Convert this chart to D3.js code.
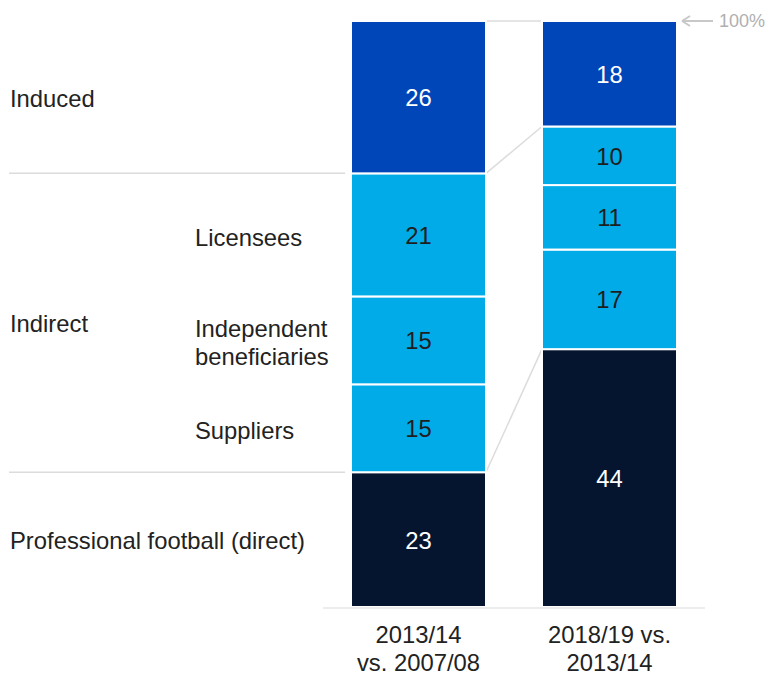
<!DOCTYPE html>
<html>
<head>
<meta charset="utf-8">
<script src="https://cdn.jsdelivr.net/npm/d3@7"></script>
<style>
  html, body { margin: 0; padding: 0; background: #fff; }
  svg text { font-family: "Liberation Sans", Arial, sans-serif; }
</style>
</head>
<body>
<svg id="chart" width="771" height="675"></svg>
<script>
// Periods compared (one stacked bar each)
const periods = ["2013/14 vs. 2007/08", "2018/19 vs. 2013/14"];
const periodLabels = [["2013/14", "vs. 2007/08"], ["2018/19 vs.", "2013/14"]];

// Stack components, bottom to top
const components = ["direct", "suppliers", "independent", "licensees", "induced"];
const direct      = [23, 44];
const suppliers   = [15, 17];
const independent = [15, 11];
const licensees   = [21, 10];
const induced     = [26, 18];

const componentColors = {
  direct: "#051530",
  suppliers: "#00ABE8",
  independent: "#00ABE8",
  licensees: "#00ABE8",
  induced: "#0046B8"
};
const labelColors = {
  direct: "#ffffff",
  suppliers: "#1e1e1e",
  independent: "#1e1e1e",
  licensees: "#1e1e1e",
  induced: "#ffffff"
};

// Group labels on the left and sub-component labels
const groupLabels = [
  { text: ["Induced"], from: "induced", to: "induced" },
  { text: ["Indirect"], from: "suppliers", to: "licensees" },
  { text: ["Professional football (direct)"], from: "direct", to: "direct" }
];
const subLabels = [
  { text: ["Licensees"], key: "licensees" },
  { text: ["Independent", "beneficiaries"], key: "independent" },
  { text: ["Suppliers"], key: "suppliers" }
];

const table = periods.map((p, i) => ({
  period: p,
  direct: direct[i],
  suppliers: suppliers[i],
  independent: independent[i],
  licensees: licensees[i],
  induced: induced[i]
}));

const svg = d3.select("#chart");
const fontSize = 23.8;
const textColor = "#222222";

const x = d3.scaleBand().domain(periods).range([351, 677]).paddingInner(56 / 191).paddingOuter(0);
const y = d3.scaleLinear().domain([0, 100]).range([607, 21]);

const series = d3.stack().keys(components)(table);

// Separator lines on the left following the first bar's group boundaries
const s0 = Object.fromEntries(series.map(s => [s.key, s[0]]));
const gridColor = "#dcdcdc";
[s0.direct[1], s0.licensees[1]].forEach(v => {
  svg.append("line")
    .attr("x1", 9).attr("x2", x(periods[0]) - 6)
    .attr("y1", y(v)).attr("y2", y(v))
    .attr("stroke", gridColor).attr("stroke-width", 1.5);
});

// Connector lines between the two bars
const s1 = Object.fromEntries(series.map(s => [s.key, s[1]]));
const x0r = x(periods[0]) + x.bandwidth();
const x1l = x(periods[1]);
[[s0.induced[1], s1.induced[1]], [s0.licensees[1], s1.licensees[1]], [s0.direct[1], s1.direct[1]]]
  .forEach(([a, b]) => {
    svg.append("line")
      .attr("x1", x0r).attr("x2", x1l)
      .attr("y1", y(a)).attr("y2", y(b))
      .attr("stroke", gridColor).attr("stroke-width", 1.5);
  });

// Stacked bars
const layers = svg.append("g").selectAll("g").data(series).join("g")
  .attr("fill", d => componentColors[d.key]);
layers.selectAll("rect").data(d => d.map(v => Object.assign(v, { key: d.key }))).join("rect")
  .attr("x", d => x(d.data.period))
  .attr("width", x.bandwidth())
  .attr("y", d => y(d[1]))
  .attr("height", d => y(d[0]) - y(d[1]))
  .attr("stroke", "#fff")
  .attr("stroke-width", 2);

// Value labels inside segments
layers.selectAll("text").data(d => d).join("text")
  .attr("x", d => x(d.data.period) + x.bandwidth() / 2)
  .attr("y", d => (y(d[0]) + y(d[1])) / 2)
  .attr("dy", "0.38em")
  .attr("text-anchor", "middle")
  .attr("font-size", fontSize)
  .attr("fill", d => labelColors[d.key])
  .text(d => d[1] - d[0]);

// Baseline
svg.append("line")
  .attr("x1", 323).attr("x2", 705)
  .attr("y1", y(0) + 1).attr("y2", y(0) + 1)
  .attr("stroke", "#e6e6e6").attr("stroke-width", 1.5);

// Category labels under the bars
periods.forEach((p, i) => {
  const t = svg.append("text")
    .attr("x", x(p) + x.bandwidth() / 2)
    .attr("y", 643)
    .attr("text-anchor", "middle")
    .attr("font-size", fontSize)
    .attr("fill", textColor);
  periodLabels[i].forEach((line, j) => {
    t.append("tspan").attr("x", x(p) + x.bandwidth() / 2).attr("dy", j === 0 ? 0 : 28).text(line);
  });
});

// Multi-line text centred vertically on a y position
function centredText(lines, xPos, yMid) {
  const lh = 28;
  const t = svg.append("text")
    .attr("x", xPos)
    .attr("font-size", fontSize)
    .attr("fill", textColor);
  lines.forEach((line, j) => {
    t.append("tspan")
      .attr("x", xPos)
      .attr("y", yMid - (lines.length - 1) * lh / 2 + j * lh)
      .attr("dy", "0.4em")
      .text(line);
  });
}

groupLabels.forEach(g => {
  centredText(g.text, 10, (y(s0[g.from][0]) + y(s0[g.to][1])) / 2);
});
subLabels.forEach(s => {
  centredText(s.text, 195, (y(s0[s.key][0]) + y(s0[s.key][1])) / 2 + 1.5);
});

// 100% marker with arrow
const xr = x(periods[1]) + x.bandwidth();
const arrowY = y(100);
svg.append("line")
  .attr("x1", xr + 6).attr("x2", xr + 36)
  .attr("y1", arrowY).attr("y2", arrowY)
  .attr("stroke", "#c8c8c8").attr("stroke-width", 2);
svg.append("path")
  .attr("d", `M${xr + 5},${arrowY} L${xr + 13},${arrowY - 5} M${xr + 5},${arrowY} L${xr + 13},${arrowY + 5}`)
  .attr("stroke", "#c8c8c8").attr("stroke-width", 2).attr("fill", "none");
svg.append("text")
  .attr("x", xr + 42).attr("y", arrowY)
  .attr("dy", "0.36em")
  .attr("font-size", 18)
  .attr("fill", "#b0b0b0")
  .text("100%");
</script>
</body>
</html>
